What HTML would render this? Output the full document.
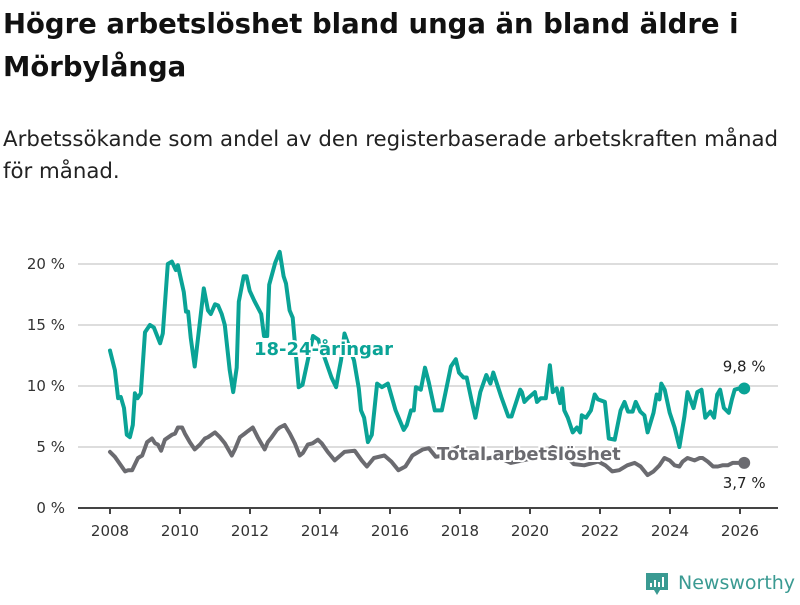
<!DOCTYPE html>
<html><head><meta charset="utf-8">
<style>
body{margin:0;background:#fff;width:800px;height:600px;overflow:hidden;font-family:"Liberation Sans",sans-serif;}
svg text{font-family:"DejaVu Sans","Liberation Sans",sans-serif;}
</style></head>
<body>
<svg id="chart" width="800" height="600">
<text x="3" y="33" font-size="27.5" font-weight="bold" fill="#111">Högre arbetslöshet bland unga än bland äldre i</text>
<text x="3" y="76" font-size="27.5" font-weight="bold" fill="#111">Mörbylånga</text>
<text x="3" y="146" font-size="21.3" fill="#222">Arbetssökande som andel av den registerbaserade arbetskraften månad</text>
<text x="3" y="178" font-size="21.3" fill="#222">för månad.</text>
<g id="grid"></g><g id="series"></g><g id="labels"></g>
<g>
<path d="M646,573 h22 v17 h-8 l-3,5 l-3,-5 h-8 z" fill="#3a9a92"/>
<rect x="650" y="583" width="2" height="4" fill="#fff"/><rect x="654" y="580" width="2" height="7" fill="#fff"/><rect x="658" y="582" width="2" height="5" fill="#fff"/><rect x="662" y="577" width="2" height="10" fill="#fff"/>
<text x="678" y="589" font-size="19" fill="#3a9a92">Newsworthy</text>
</g>
</svg>
<script>
const yTicks=[0,5,10,15,20];
const xTicks=[2008,2010,2012,2014,2016,2018,2020,2022,2024,2026];
const youthDates=[2008.0,2008.14,2008.23,2008.31,2008.4,2008.48,2008.57,2008.65,2008.71,2008.79,2008.88,2009.0,2009.14,2009.25,2009.43,2009.51,2009.65,2009.77,2009.88,2009.94,2010.0,2010.11,2010.17,2010.23,2010.31,2010.42,2010.68,2010.8,2010.88,2011.0,2011.09,2011.19,2011.28,2011.42,2011.52,2011.62,2011.68,2011.82,2011.9,2011.99,2012.12,2012.32,2012.4,2012.49,2012.55,2012.72,2012.85,2012.96,2013.03,2013.13,2013.22,2013.39,2013.5,2013.8,2013.95,2014.33,2014.46,2014.52,2014.6,2014.7,2014.97,2015.11,2015.17,2015.26,2015.37,2015.48,2015.63,2015.77,2015.94,2016.16,2016.39,2016.48,2016.6,2016.68,2016.74,2016.88,2017.0,2017.11,2017.28,2017.48,2017.59,2017.74,2017.88,2017.97,2018.1,2018.19,2018.34,2018.44,2018.58,2018.75,2018.87,2018.95,2019.18,2019.38,2019.47,2019.72,2019.77,2019.84,2019.94,2020.14,2020.2,2020.31,2020.45,2020.57,2020.65,2020.76,2020.86,2020.92,2020.98,2021.08,2021.22,2021.34,2021.43,2021.48,2021.6,2021.74,2021.85,2021.94,2022.14,2022.25,2022.42,2022.59,2022.7,2022.8,2022.93,2023.02,2023.15,2023.27,2023.36,2023.53,2023.62,2023.7,2023.75,2023.85,2023.99,2024.13,2024.27,2024.41,2024.5,2024.67,2024.78,2024.9,2025.01,2025.15,2025.26,2025.35,2025.43,2025.54,2025.68,2025.77,2025.85,2025.97,2026.12];
const youthValues=[12.9,11.3,9.0,9.1,8.2,6.0,5.8,6.8,9.4,9.0,9.4,14.4,15.0,14.8,13.5,14.3,20.0,20.2,19.5,19.9,19.1,17.7,16.1,16.1,13.9,11.6,18.0,16.2,15.9,16.7,16.6,15.9,15.0,11.3,9.5,11.5,16.9,19.0,19.0,17.8,17.0,15.9,14.1,14.1,18.3,20.1,21.0,19.0,18.4,16.2,15.6,9.9,10.1,14.1,13.8,10.7,9.9,10.9,12.1,14.3,12.1,9.8,8.0,7.4,5.4,6.0,10.2,9.9,10.2,8.0,6.4,6.8,8.0,8.0,9.9,9.7,11.5,10.3,8.0,8.0,9.5,11.6,12.2,11.1,10.7,10.7,8.7,7.4,9.5,10.9,10.2,11.1,9.1,7.5,7.5,9.7,9.5,8.7,9.0,9.5,8.7,9.0,9.0,11.7,9.5,9.8,8.6,9.8,8.0,7.4,6.2,6.6,6.2,7.6,7.4,8.0,9.3,8.9,8.7,5.7,5.6,8.0,8.7,7.9,7.9,8.7,7.9,7.6,6.2,7.8,9.3,8.9,10.2,9.7,7.8,6.6,5.0,7.5,9.5,8.2,9.5,9.7,7.4,7.9,7.4,9.3,9.7,8.2,7.8,8.9,9.7,9.8,9.8];
const totalDates=[2008.0,2008.14,2008.43,2008.52,2008.63,2008.8,2008.92,2009.06,2009.2,2009.29,2009.37,2009.46,2009.57,2009.77,2009.86,2009.94,2010.06,2010.14,2010.28,2010.42,2010.57,2010.71,2010.8,2011.0,2011.14,2011.28,2011.48,2011.57,2011.71,2011.85,2011.94,2012.08,2012.22,2012.42,2012.51,2012.62,2012.77,2012.85,2012.99,2013.14,2013.28,2013.42,2013.51,2013.65,2013.79,2013.94,2014.05,2014.22,2014.42,2014.7,2014.99,2015.19,2015.34,2015.54,2015.84,2016.04,2016.24,2016.44,2016.64,2016.94,2017.11,2017.31,2017.55,2017.95,2018.25,2018.65,2019.05,2019.45,2019.95,2020.35,2020.65,2020.95,2021.25,2021.55,2021.95,2022.15,2022.35,2022.55,2022.78,2022.99,2023.16,2023.36,2023.53,2023.7,2023.84,2023.99,2024.13,2024.27,2024.36,2024.5,2024.7,2024.85,2024.93,2025.08,2025.23,2025.37,2025.5,2025.65,2025.79,2025.94,2026.12];
const totalValues=[4.6,4.2,3.0,3.1,3.1,4.1,4.3,5.4,5.7,5.3,5.2,4.7,5.6,6.0,6.1,6.6,6.6,6.1,5.4,4.8,5.2,5.7,5.8,6.2,5.8,5.3,4.3,4.8,5.8,6.1,6.3,6.6,5.8,4.8,5.4,5.8,6.4,6.6,6.8,6.1,5.3,4.3,4.5,5.2,5.3,5.6,5.3,4.6,3.9,4.6,4.7,3.9,3.4,4.1,4.3,3.8,3.1,3.4,4.3,4.8,4.9,4.2,4.3,5.0,4.6,4.0,4.2,3.7,4.0,4.4,5.0,4.5,3.6,3.5,3.8,3.5,3.0,3.1,3.5,3.7,3.4,2.7,3.0,3.5,4.1,3.9,3.5,3.4,3.8,4.1,3.9,4.1,4.1,3.8,3.4,3.4,3.5,3.5,3.7,3.7,3.7];
const NS='http://www.w3.org/2000/svg';
const X=d=>110+(d-2008)*35;
const Y=v=>508-v*12.2;
function mk(tag,attrs,parent){const e=document.createElementNS(NS,tag);for(const k in attrs)e.setAttribute(k,attrs[k]);parent.appendChild(e);return e;}
const grid=document.getElementById('grid'),ser=document.getElementById('series'),lab=document.getElementById('labels');
yTicks.forEach(t=>{
 if(t>0){const l=mk('line',{x1:78,x2:778,y1:Y(t),y2:Y(t),stroke:'#ddd','stroke-width':2},grid);
 
 }
 const tx=mk('text',{x:65,y:Y(t)+5,'text-anchor':'end','font-size':15,fill:'#333'},grid);tx.textContent=t+' %';
 
 
});
const ax=mk('line',{x1:78,x2:778,y1:508,y2:508,stroke:'#444','stroke-width':2},grid);


xTicks.forEach(t=>{
 const tk=mk('line',{x1:X(t),x2:X(t),y1:508,y2:514,stroke:'#444','stroke-width':2},grid);
 
 
 const tx=mk('text',{x:X(t),y:536,'text-anchor':'middle','font-size':15,fill:'#333'},grid);tx.textContent=t;
 
 
});
function line(ds,vs,color,name){
 const n=Math.min(ds.length,vs.length)-1;
 const p=mk('path',{d:ds.slice(0,n+1).map((d,i)=>(i?'L':'M')+X(d).toFixed(1)+','+Y(vs[i]).toFixed(1)).join(''),fill:'none',stroke:color,'stroke-width':4,'stroke-linejoin':'round','stroke-linecap':'round'},ser);
 
 
 const c=mk('circle',{cx:X(ds[n]),cy:Y(vs[n]),r:6,fill:color},ser);
 
 
 return n;
}
const nT=line(totalDates,totalValues,'#6b6b70','total-line');
const nY=line(youthDates,youthValues,'#0aa396','youth-line');
function label(txt,x,y,color,name,anchor,weight,size,halo){
 const t=mk('text',{x:x,y:y,'text-anchor':anchor,'font-size':size,'font-weight':weight,fill:color,stroke:halo?'#fff':'none','stroke-width':halo?4:0,'paint-order':'stroke'},lab);t.textContent=txt;
 
 
}
label('18-24-åringar',254,355,'#0aa396','youth-series-label','start','bold',18,true);
label('Total arbetslöshet',437,460,'#6b6b70','total-series-label','start','bold',18,true);
label(String(youthValues[nY]).replace('.',',')+' %',X(youthDates[nY]),Y(youthValues[nY])-17,'#222','youth-end-value','middle','normal',15,false);
label(String(totalValues[nT]).replace('.',',')+' %',X(totalDates[nT]),Y(totalValues[nT])+25,'#222','total-end-value','middle','normal',15,false);
</script>
</body></html>
